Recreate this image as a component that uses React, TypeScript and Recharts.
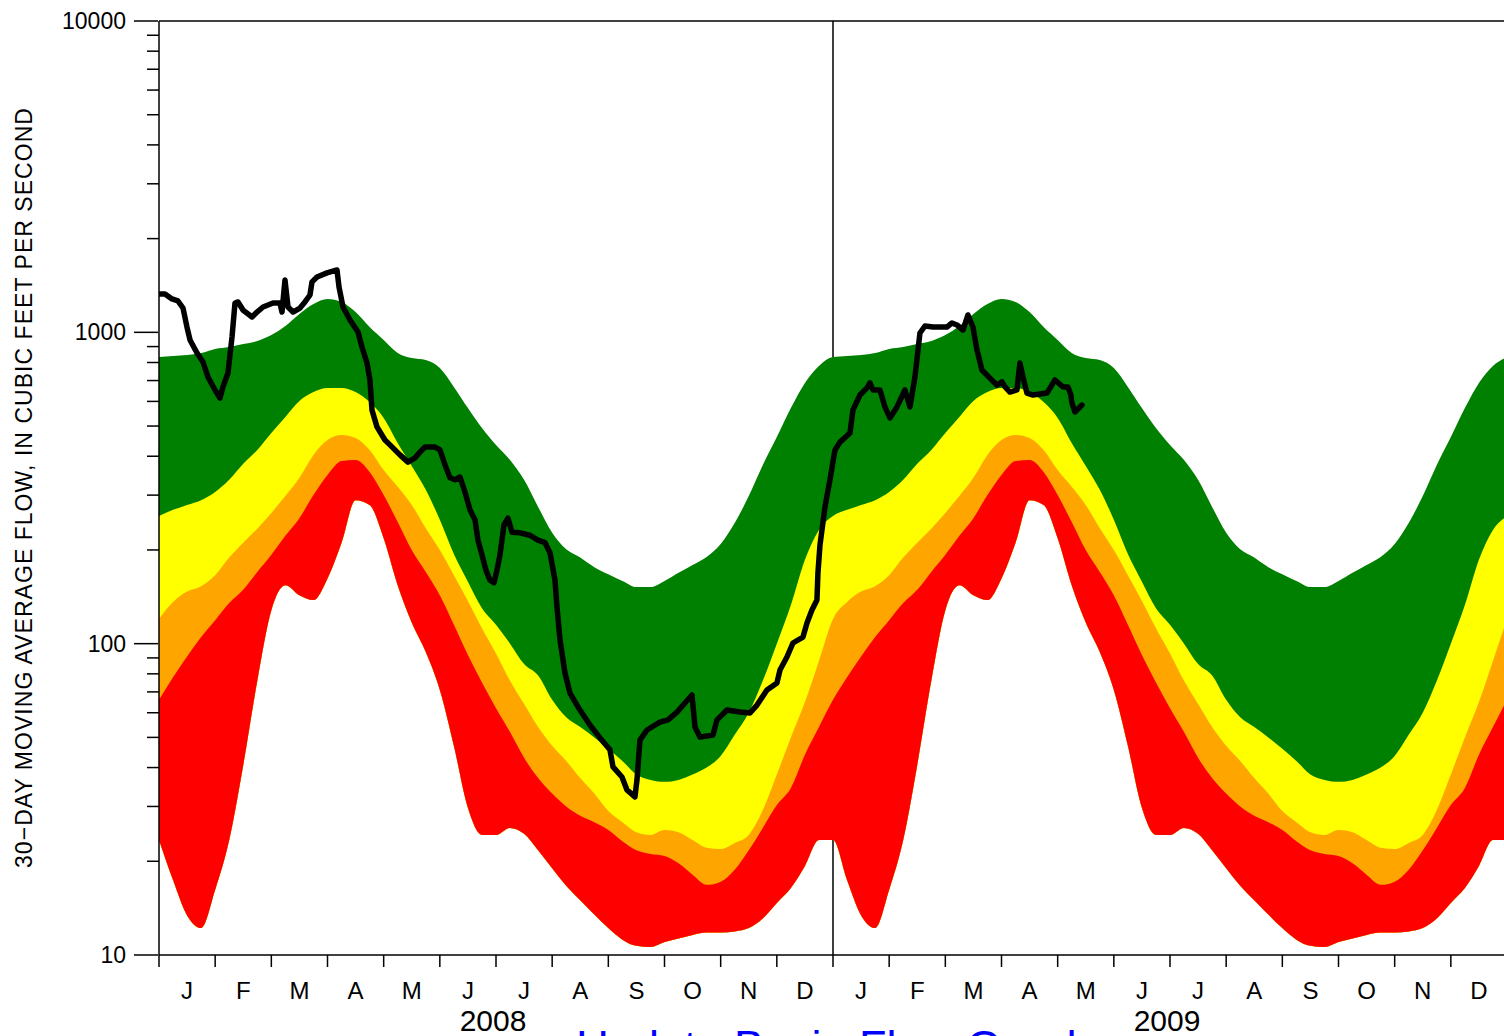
import React from "react";
import { ComposedChart, Area, Line, XAxis, YAxis, CartesianGrid } from "recharts";

const FONT = '"Liberation Sans", Arial, Helvetica, sans-serif';

// Climatological percentile bands (cfs), sampled every quarter month, Jan 1 .. Dec 24
const bandMonths = [
  0, 0.25, 0.5, 0.75, 1, 1.25, 1.5, 1.75, 2, 2.25, 2.5, 2.75,
  3, 3.25, 3.5, 3.75, 4, 4.25, 4.5, 4.75, 5, 5.25, 5.5, 5.75,
  6, 6.25, 6.5, 6.75, 7, 7.25, 7.5, 7.75, 8, 8.25, 8.5, 8.75,
  9, 9.25, 9.5, 9.75, 10, 10.25, 10.5, 10.75, 11, 11.25, 11.5, 11.75,
];
const greenTop = [
  833, 840, 846, 858, 884, 897, 917, 938, 980, 1048, 1145, 1233,
  1280, 1252, 1162, 1040, 945, 858, 827, 815, 768, 668, 571, 493,
  435, 389, 336, 275, 227, 201, 189, 176, 167, 159, 152, 152,
  159, 169, 179, 190, 209, 244, 298, 375, 461, 571, 688, 780,
];
const yellowTop = [
  257, 269, 279, 289, 307, 336, 378, 419, 475, 535, 602, 643,
  663, 663, 643, 597, 531, 441, 372, 312, 250, 194, 158, 130,
  115, 100, 86, 79, 66, 58, 54, 50, 46, 42, 38, 36.5,
  36, 36.5, 38, 40, 43.6, 51, 60, 76, 100, 133, 186, 232,
];
const orangeTop = [
  120, 136, 147, 153, 166, 189, 211, 234, 263, 298, 341, 404,
  451, 468, 458, 419, 361, 319, 279, 235, 200, 166, 137, 112,
  93, 76, 64, 54, 47, 42, 37, 33, 29, 26.7, 24.8, 24.3,
  25.2, 24.8, 23.4, 22.1, 21.9, 22.9, 24.3, 29.2, 38, 50, 65, 88,
];
const redTop = [
  66, 78, 91, 105, 119, 135, 149, 170, 193, 222, 253, 300,
  348, 386, 389, 356, 300, 246, 200, 170, 143, 115, 92, 75,
  62, 52, 43, 37, 33, 30, 28, 26.7, 25.2, 23.2, 21.7, 21.1,
  20.8, 19.7, 18.1, 16.8, 17.2, 18.8, 21.7, 25.6, 30.3, 34.4, 44, 54,
];
const redBottom = [
  23.4, 17.4, 13.4, 12.2, 16.2, 23.4, 40.8, 76, 128, 154, 143, 138,
  162, 211, 289, 279, 218, 154, 117, 94, 71, 47, 29.7, 24.3,
  24.3, 25.6, 24.5, 21.7, 19, 16.7, 15, 13.5, 12.2, 11.2, 10.7, 10.6,
  11, 11.3, 11.6, 11.8, 11.8, 11.9, 12.2, 13.1, 14.7, 16.4, 19.3, 23.4,
];

// Observed 30-day moving average flow: [months since Jan 1 2008, cfs]
const observedFlow: [number, number][] = [
  [0, 1328], [0.107, 1328], [0.231, 1280], [0.338, 1261], [0.427, 1197], [0.498, 1040],
  [0.552, 945], [0.677, 858], [0.783, 803], [0.872, 719], [0.997, 653], [1.086, 615],
  [1.139, 668], [1.228, 740], [1.3, 966], [1.353, 1242], [1.406, 1252], [1.496, 1179],
  [1.656, 1120], [1.745, 1162], [1.852, 1206], [2.03, 1242], [2.154, 1242], [2.19, 1162],
  [2.243, 1473], [2.297, 1206], [2.386, 1162], [2.51, 1197], [2.599, 1252], [2.688, 1318],
  [2.724, 1452], [2.813, 1506], [2.991, 1552], [3.169, 1586], [3.205, 1398], [3.276, 1206],
  [3.4, 1096], [3.543, 1003], [3.614, 897], [3.703, 797], [3.756, 703], [3.792, 563],
  [3.881, 497], [4.023, 451], [4.112, 435], [4.29, 404], [4.433, 383], [4.558, 395],
  [4.647, 413], [4.736, 428], [4.914, 428], [5.003, 419], [5.092, 375], [5.181, 341],
  [5.27, 336], [5.359, 343], [5.448, 307], [5.537, 269], [5.626, 250], [5.679, 215],
  [5.75, 193], [5.822, 172], [5.893, 160], [5.964, 157], [6.017, 172], [6.071, 193],
  [6.142, 241], [6.213, 253], [6.285, 228], [6.427, 227], [6.605, 223], [6.747, 215],
  [6.872, 211], [6.961, 196], [7.05, 160], [7.086, 131], [7.139, 103], [7.228, 80.5],
  [7.317, 69.4], [7.495, 61.2], [7.673, 54.8], [7.851, 49.8], [8.029, 45.6], [8.083, 40.2],
  [8.243, 37.3], [8.332, 33.9], [8.474, 32.2], [8.51, 36.5], [8.563, 49], [8.688, 52.8],
  [8.919, 56], [9.062, 56.9], [9.222, 60.3], [9.489, 68.4], [9.543, 54], [9.632, 50.1],
  [9.863, 50.9], [9.934, 56.9], [10.112, 61.2], [10.344, 60.3], [10.522, 59.9], [10.646, 63.5],
  [10.824, 71], [11.002, 74.8], [11.056, 82.3], [11.18, 90.6], [11.287, 100.5], [11.465, 105],
  [11.537, 116.5], [11.625, 128.3], [11.714, 138.1], [11.732, 168.7], [11.768, 207.4], [11.857, 274.8],
  [11.946, 336], [12.035, 419], [12.124, 444], [12.302, 475], [12.355, 563], [12.48, 629],
  [12.605, 663], [12.658, 688], [12.711, 653], [12.836, 653], [12.925, 576], [13.014, 531],
  [13.139, 576], [13.281, 653], [13.37, 576], [13.459, 719], [13.548, 995], [13.637, 1048],
  [13.78, 1040], [13.904, 1040], [14.029, 1040], [14.118, 1072], [14.207, 1056], [14.314, 1017],
  [14.403, 1137], [14.492, 1040], [14.563, 878], [14.652, 757], [14.794, 713], [14.919, 677],
  [15.008, 693], [15.062, 668], [15.15, 643], [15.275, 653], [15.328, 797], [15.382, 719],
  [15.453, 638], [15.56, 629], [15.809, 638], [15.951, 703], [16.094, 668], [16.183, 668],
  [16.236, 629], [16.254, 593], [16.308, 555], [16.432, 584],
];

const years = ["2008", "2009"];
const monthLetters = ["J", "F", "M", "A", "M", "J", "J", "A", "S", "O", "N", "D"];
const majorFlowTicks = [10, 100, 1000, 10000];
const minorFlowTicks = [
  20, 30, 40, 50, 60, 70, 80, 90,
  200, 300, 400, 500, 600, 700, 800, 900,
  2000, 3000, 4000, 5000, 6000, 7000, 8000, 9000,
];
const monthBoundaryTicks = [0, 1, 2, 3, 4, 5, 6, 7, 8, 9, 10, 11, 12, 13, 14, 15, 16, 17, 18, 19, 20, 21, 22, 23, 24];
const monthMidTicks = [
  0.5, 1.5, 2.5, 3.5, 4.5, 5.5, 6.5, 7.5, 8.5, 9.5, 10.5, 11.5,
  12.5, 13.5, 14.5, 15.5, 16.5, 17.5, 18.5, 19.5, 20.5, 21.5, 22.5, 23.5,
];
const yTitle = "30\u2212DAY  MOVING  AVERAGE  FLOW,  IN  CUBIC  FEET  PER  SECOND";
const linkText = "Update Basin Flow Graph";

type BandRow = { m: number; g: number; y: number; o: number; r: number; lo: number };
const bandRows: BandRow[] = [];
years.forEach((_, yi) => {
  bandMonths.forEach((m, i) => {
    bandRows.push({ m: m + 12 * yi, g: greenTop[i], y: yellowTop[i], o: orangeTop[i], r: redTop[i], lo: redBottom[i] });
  });
});
bandRows.push({ m: 24, g: greenTop[0], y: yellowTop[0], o: orangeTop[0], r: redTop[0], lo: redBottom[0] });

const flowRows = observedFlow.map(([m, v]) => ({ m, v }));

const YearTick = (props: any) => {
  const { x, y, payload } = props;
  const v = payload && payload.value;
  if (v % 12 !== 6) return <g />;
  return (
    <text x={x - 3} y={y + 64} textAnchor="middle" fontSize={30} fontFamily={FONT} fill="#000">
      {years[Math.floor(v / 12)]}
    </text>
  );
};

const EmptyTick = () => <g />;

const axisStroke = { stroke: "#000", strokeWidth: 1.5 };

export default function App() {
  return (
    <div
      style={{
        position: "fixed",
        left: 0,
        top: 0,
        width: 1504,
        height: 1036,
        overflow: "hidden",
        background: "#fff",
      }}
    >
      <ComposedChart
        width={1510}
        height={1036}
        data={bandRows}
        margin={{ top: 21, right: 3, bottom: 30, left: 0 }}
      >
        <CartesianGrid
          xAxisId="a_ticks"
          yAxisId="b_flow"
          horizontalValues={[10000]}
          verticalValues={[12]}
          stroke="#000"
          strokeWidth={1.5}
        />
        <XAxis
          xAxisId="b_labels"
          dataKey="m"
          type="number"
          domain={[0, 24]}
          allowDataOverflow
          ticks={monthMidTicks}
          interval={0}
          height={50}
          tickSize={0}
          tickMargin={26}
          tickLine={false}
          axisLine={false}
          tickFormatter={(v: number) => monthLetters[Math.floor(v) % 12]}
          tick={{ fill: "#000", fontSize: 24, fontFamily: FONT }}
        />
        <XAxis
          xAxisId="a_ticks"
          dataKey="m"
          type="number"
          domain={[0, 24]}
          allowDataOverflow
          ticks={monthBoundaryTicks}
          interval={0}
          height={1}
          tickSize={12}
          tickMargin={0}
          tick={<YearTick />}
          tickLine={axisStroke}
          axisLine={axisStroke}
        />
        <YAxis
          yAxisId="b_flow"
          orientation="left"
          width={158}
          scale="log"
          domain={[10, 10000]}
          allowDataOverflow
          ticks={majorFlowTicks}
          interval={0}
          tickSize={24}
          tickMargin={8}
          tick={{ fill: "#000", fontSize: 23, fontFamily: FONT }}
          tickLine={axisStroke}
          axisLine={false}
        />
        <YAxis
          yAxisId="a_minor"
          orientation="left"
          width={1}
          scale="log"
          domain={[10, 10000]}
          allowDataOverflow
          ticks={minorFlowTicks}
          interval={0}
          tick={<EmptyTick />}
          tickSize={12}
          tickLine={axisStroke}
          axisLine={axisStroke}
        />
        <Area
          xAxisId="a_ticks"
          yAxisId="b_flow"
          type="monotone"
          dataKey={(d: BandRow) => [d.lo, d.g]}
          fill="#008000"
          fillOpacity={1}
          stroke="none"
          isAnimationActive={false}
        />
        <Area
          xAxisId="a_ticks"
          yAxisId="b_flow"
          type="monotone"
          dataKey={(d: BandRow) => [d.lo, d.y]}
          fill="#ffff00"
          fillOpacity={1}
          stroke="none"
          isAnimationActive={false}
        />
        <Area
          xAxisId="a_ticks"
          yAxisId="b_flow"
          type="monotone"
          dataKey={(d: BandRow) => [d.lo, d.o]}
          fill="#ffa500"
          fillOpacity={1}
          stroke="none"
          isAnimationActive={false}
        />
        <Area
          xAxisId="a_ticks"
          yAxisId="b_flow"
          type="monotone"
          dataKey={(d: BandRow) => [d.lo, d.r]}
          fill="#ff0000"
          fillOpacity={1}
          stroke="none"
          isAnimationActive={false}
        />
        <Line
          xAxisId="a_ticks"
          yAxisId="b_flow"
          data={flowRows}
          dataKey="v"
          type="linear"
          stroke="#000"
          strokeWidth={5.5}
          strokeLinejoin="round"
          strokeLinecap="round"
          dot={false}
          activeDot={false}
          isAnimationActive={false}
        />
      </ComposedChart>
      <svg
        width={1504}
        height={1036}
        style={{ position: "absolute", left: 0, top: 0, pointerEvents: "none" }}
      >
        <text
          x={32}
          y={488}
          transform="rotate(-90 32 488)"
          textAnchor="middle"
          fontSize={23}
          fontFamily={FONT}
          fill="#000"
          textLength={760}
          lengthAdjust="spacing"
        >
          {yTitle}
        </text>
        <text x={834} y={1062} textAnchor="middle" fontSize={45} fontFamily={FONT} fill="#0000ff">
          {linkText}
        </text>
      </svg>
    </div>
  );
}
